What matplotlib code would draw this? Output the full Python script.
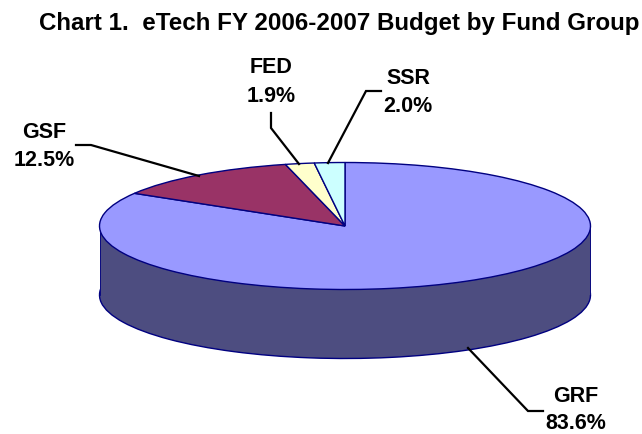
import matplotlib
matplotlib.use("Agg")
import matplotlib.pyplot as plt
from matplotlib.patches import Rectangle
from matplotlib.lines import Line2D

plt.rcParams['font.family'] = ['Liberation Sans', 'DejaVu Sans']

title = "Chart 1.  eTech FY 2006-2007 Budget by Fund Group"
categories = ["GRF", "GSF", "FED", "SSR"]
shares = [83.6, 12.5, 1.9, 2.0]
top_colors = ["#9999FF", "#993366", "#FFFFCC", "#CCFFFF"]
side_colors = ["#4D4D80", "#4D1A33", "#808066", "#668080"]

W, H = 642, 434
CX, CY, RX, RY, DEPTH = 345, 226, 245.5, 63.5, 69
EDGE = "#000080"

fig = plt.figure(figsize=(W / 100, H / 100), dpi=100, facecolor="white")

# pie axes: unit circle stretched into the ellipse, with room for the depth
ax = fig.add_axes([(CX - RX) / W, 1 - (CY + RY + DEPTH) / H,
                   2 * RX / W, (2 * RY + DEPTH) / H])
d = DEPTH / RY
lower, _ = ax.pie(shares, colors=side_colors, startangle=90, counterclock=False,
                  radius=1, center=(0, -d),
                  wedgeprops=dict(edgecolor=EDGE, linewidth=1.0, joinstyle="bevel"))
ax.add_patch(Rectangle((-1, -d), 2, d,
                       facecolor=side_colors[0], edgecolor="none", zorder=2))
ax.add_patch(Rectangle((-0.5, -d - 0.03), 1, 0.04,
                       facecolor=side_colors[0], edgecolor="none", zorder=2))
ax.add_line(Line2D([-1, -1], [-d, 0], color=EDGE, lw=1.2, zorder=2))
ax.add_line(Line2D([1, 1], [-d, 0], color=EDGE, lw=1.2, zorder=2))
upper, _ = ax.pie(shares, colors=top_colors, startangle=90, counterclock=False,
                  radius=1, center=(0, 0),
                  wedgeprops=dict(edgecolor=EDGE, linewidth=1.0, zorder=3))
ax.set_aspect("auto")
ax.set_xlim(-1, 1)
ax.set_ylim(-1 - d, 1)
ax.axis("off")
for p in lower + upper:
    p.set_clip_on(False)

# overlay in pixel coordinates for texts and leader lines
ov = fig.add_axes([0, 0, 1, 1], facecolor="none")
ov.set_xlim(0, W)
ov.set_ylim(H, 0)
ov.axis("off")

ov.text(39, 30, title, ha="left", va="baseline", fontsize=17.4, fontweight="bold")

label_pos = {"GRF": (576, 402, 429), "GSF": (44, 138, 166),
             "FED": (271, 73, 102), "SSR": (408, 84, 112)}
leaders = {
    "GRF": ([468, 528, 543], [348, 411, 411]),
    "GSF": ([76, 91, 199], [145, 145, 176]),
    "FED": ([271, 271, 299], [113, 128, 164]),
    "SSR": ([381, 366, 328], [91, 91, 163]),
}
for name, share in zip(categories, shares):
    x, y1, y2 = label_pos[name]
    ov.text(x, y1, name, ha="center", va="baseline", fontsize=15.5, fontweight="bold")
    ov.text(x, y2, f"{share:.1f}%", ha="center", va="baseline", fontsize=15.5, fontweight="bold")
    lx, ly = leaders[name]
    ov.add_line(Line2D(lx, ly, color="black", lw=1.6, solid_joinstyle="miter"))

fig.savefig("out.png", dpi=100, facecolor="white")
